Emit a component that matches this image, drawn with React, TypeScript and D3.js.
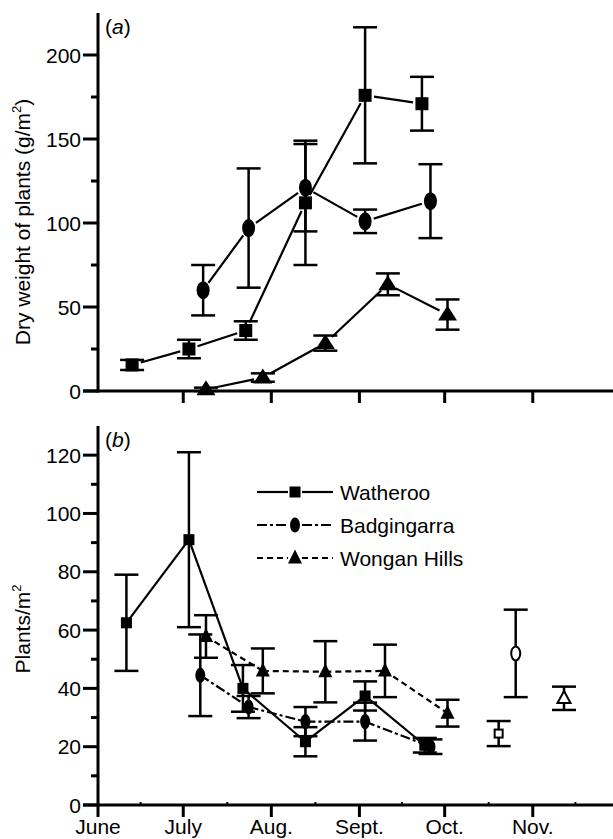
import React, { useRef, useEffect } from 'react';
import * as d3 from 'd3';

const YEAR = 1995;
const monthLabels = ["June", "July", "Aug.", "Sept.", "Oct.", "Nov."];
const monthStarts = ["06-01", "07-01", "08-01", "09-01", "10-01", "11-01"];

// (a) dry weight of plants, g/m2 (mean and error)
const dryWatheroo = [
  { date: "06-13", mean: 15.5, err: 3 },
  { date: "07-03", mean: 25, err: 5.5 },
  { date: "07-23", mean: 36, err: 5.5 },
  { date: "08-13", mean: 112, err: 37 },
  { date: "09-03", mean: 176, err: 40.5 },
  { date: "09-23", mean: 171, err: 16 },
];
const dryBadgingarra = [
  { date: "07-08", mean: 60, err: 15 },
  { date: "07-24", mean: 97, err: 35.5 },
  { date: "08-13", mean: 121, err: 26 },
  { date: "09-03", mean: 101, err: 7 },
  { date: "09-26", mean: 113, err: 22 },
];
const dryWongan = [
  { date: "07-09", mean: 1, err: 1 },
  { date: "07-29", mean: 8, err: 2.5 },
  { date: "08-20", mean: 28.5, err: 4.5 },
  { date: "09-11", mean: 63.5, err: 6.5 },
  { date: "10-02", mean: 45.5, err: 9 },
];

// (b) plant density, plants/m2
const densWatheroo = [
  { date: "06-11", mean: 62.5, err: 16.5 },
  { date: "07-03", mean: 91, err: 30 },
  { date: "07-22", mean: 40, err: 8 },
  { date: "08-13", mean: 21.7, err: 5 },
  { date: "09-03", mean: 37.4, err: 5 },
  { date: "09-24", mean: 20.5, err: 2.5 },
];
const densBadgingarra = [
  { date: "07-07", mean: 44.5, err: 14 },
  { date: "07-24", mean: 33.6, err: 3.8 },
  { date: "08-13", mean: 28.6, err: 5 },
  { date: "09-03", mean: 28.6, err: 6.5 },
  { date: "09-26", mean: 20, err: 2.5 },
];
const densWongan = [
  { date: "07-09", mean: 57.8, err: 7.3 },
  { date: "07-29", mean: 46, err: 7.7 },
  { date: "08-20", mean: 45.7, err: 10.5 },
  { date: "09-10", mean: 46, err: 9 },
  { date: "10-02", mean: 31.5, err: 4.6 },
];
// separate (unconnected) open-symbol samples
const densLateWatheroo = [{ date: "10-20", mean: 24.5, err: 4.3 }];
const densLateBadgingarra = [{ date: "10-26", mean: 52, err: 15 }];
const densLateWongan = [{ date: "11-12", mean: 36.6, err: 4 }];

const legendNames = ["Watheroo", "Badgingarra", "Wongan Hills"];

const FONT = "'Liberation Sans', Arial, Helvetica, sans-serif";

const App = () => {
  const svgRef = useRef(null);
  const width = 613;
  const height = 839;

  useEffect(() => {
    const svg = d3.select(svgRef.current);
    svg.selectAll("*").remove();

    const parse = d3.timeParse("%Y-%m-%d");
    const day = (s: string) => parse(`${YEAR}-${s}`) as Date;
    const x = d3.scaleTime().domain([day("06-01"), day("12-01")]).range([98, 618]);

    const dashes = { solid: null, dashdot: "10,3,3,3", dashed: "6,4" };

    // draw one marker
    const marker = (g, shape, cx, cy, s, open) => {
      const fill = open ? "#fff" : "#000";
      const sw = open ? 2 : 0;
      if (shape === "square") {
        g.append("rect").attr("x", cx - s.sq / 2).attr("y", cy - s.sq / 2)
          .attr("width", s.sq).attr("height", s.sq)
          .attr("fill", fill).attr("stroke", "#000").attr("stroke-width", sw);
      } else if (shape === "ellipse") {
        g.append("ellipse").attr("cx", cx).attr("cy", cy).attr("rx", s.rx).attr("ry", s.ry)
          .attr("fill", fill).attr("stroke", "#000").attr("stroke-width", sw);
      } else {
        const p = d3.path();
        p.moveTo(cx, cy - s.th * 0.6);
        p.lineTo(cx + s.tw / 2, cy + s.th * 0.4);
        p.lineTo(cx - s.tw / 2, cy + s.th * 0.4);
        p.closePath();
        g.append("path").attr("d", p.toString())
          .attr("fill", fill).attr("stroke", "#000").attr("stroke-width", sw)
          .attr("stroke-linejoin", "miter");
      }
    };

    const errorBars = (g, data, y, cap) => {
      data.forEach(d => {
        const cx = x(day(d.date));
        const y1 = y(d.mean + d.err);
        const y2 = y(d.mean - d.err);
        g.append("line").attr("x1", cx).attr("x2", cx).attr("y1", y1).attr("y2", y2);
        g.append("line").attr("x1", cx - cap / 2).attr("x2", cx + cap / 2).attr("y1", y1).attr("y2", y1);
        g.append("line").attr("x1", cx - cap / 2).attr("x2", cx + cap / 2).attr("y1", y2).attr("y2", y2);
      });
    };

    const connect = (g, data, y, dash, trim) => {
      const pts = data.map(d => [x(day(d.date)), y(d.mean)]);
      for (let i = 0; i < pts.length - 1; i++) {
        const [x1, y1] = pts[i];
        const [x2, y2] = pts[i + 1];
        const len = Math.hypot(x2 - x1, y2 - y1);
        const ux = (x2 - x1) / len, uy = (y2 - y1) / len;
        g.append("line")
          .attr("x1", x1 + ux * trim).attr("y1", y1 + uy * trim)
          .attr("x2", x2 - ux * trim).attr("y2", y2 - uy * trim)
          .attr("stroke-dasharray", dash);
      }
    };

    const panels = [
      {
        tag: "a",
        y: d3.scaleLinear().domain([0, 225]).range([391, 13]),
        major: [0, 50, 100, 150, 200],
        minor: [25, 75, 125, 175],
        title: ["Dry weight of plants (g/m", "2", ")"],
        titleY: 222,
        labels: false,
        trim: 9,
        size: { sq: 13, rx: 6.5, ry: 9, tw: 19, th: 15 },
        series: [
          { data: dryWatheroo, shape: "square", dash: dashes.solid },
          { data: dryBadgingarra, shape: "ellipse", dash: dashes.solid },
          { data: dryWongan, shape: "triangle", dash: dashes.solid },
        ],
        late: [],
      },
      {
        tag: "b",
        y: d3.scaleLinear().domain([0, 130]).range([805, 426]),
        major: [0, 20, 40, 60, 80, 100, 120],
        minor: [10, 30, 50, 70, 90, 110],
        title: ["Plants/m", "2", ""],
        titleY: 629,
        labels: true,
        trim: 0,
        size: { sq: 11, rx: 5, ry: 7.5, tw: 14, th: 14 },
        series: [
          { data: densWatheroo, shape: "square", dash: dashes.solid },
          { data: densBadgingarra, shape: "ellipse", dash: dashes.dashdot },
          { data: densWongan, shape: "triangle", dash: dashes.dashed },
        ],
        late: [
          { data: densLateWatheroo, shape: "square", size: { sq: 8 } },
          { data: densLateBadgingarra, shape: "ellipse", size: { rx: 4.5, ry: 7 } },
          { data: densLateWongan, shape: "triangle", size: { tw: 13, th: 12 } },
        ],
      },
    ];

    panels.forEach(p => {
      const y = p.y;
      const y0 = y(0);
      const g = svg.append("g");

      // axes
      const ax = g.append("g").attr("stroke", "#000").attr("stroke-width", 3).attr("fill", "none");
      ax.append("line").attr("x1", 98).attr("x2", 98).attr("y1", y.range()[1]).attr("y2", y0 + 1.5);
      ax.append("line").attr("x1", 83).attr("x2", 613).attr("y1", y0).attr("y2", y0);
      p.major.forEach(v => {
        ax.append("line").attr("x1", 83).attr("x2", 98).attr("y1", y(v)).attr("y2", y(v));
      });
      p.minor.forEach(v => {
        ax.append("line").attr("x1", 91).attr("x2", 98).attr("y1", y(v)).attr("y2", y(v));
      });
      monthStarts.forEach((m, i) => {
        if (i === 0 && !p.labels) return;
        const mx = x(day(m));
        ax.append("line").attr("x1", mx).attr("x2", mx).attr("y1", y0).attr("y2", y0 + 12);
        if (p.labels) {
          // small inward tick half way through each month
          const next = i < monthStarts.length - 1 ? x(day(monthStarts[i + 1])) : x.range()[1];
          const mid = (mx + next) / 2;
          ax.append("line").attr("x1", mid).attr("x2", mid).attr("y1", y0).attr("y2", y0 - 3)
            .attr("stroke-width", 2);
        }
      });

      const tl = g.append("g").attr("font-family", FONT).attr("font-size", 21).attr("fill", "#000");
      p.major.forEach(v => {
        tl.append("text").attr("x", 81).attr("y", y(v)).attr("dy", "0.36em")
          .attr("text-anchor", "end").text(v);
      });
      if (p.labels) {
        monthLabels.forEach((m, i) => {
          tl.append("text").attr("x", x(day(monthStarts[i]))).attr("y", y0 + 29)
            .attr("text-anchor", "middle").text(m);
        });
      }
      // axis title
      const t = tl.append("text")
        .attr("transform", `translate(30,${p.titleY}) rotate(-90)`)
        .attr("text-anchor", "middle");
      t.append("tspan").text(p.title[0]);
      t.append("tspan").attr("font-size", 13).attr("dy", -9).text(p.title[1]);
      if (p.title[2]) t.append("tspan").attr("dy", 9).text(p.title[2]);

      // panel tag
      const tag = tl.append("text").attr("x", 105).attr("y", y.range()[1] + 21);
      tag.append("tspan").text("(");
      tag.append("tspan").attr("font-style", "italic").text(p.tag);
      tag.append("tspan").text(")");

      // error bars
      const eg = g.append("g").attr("stroke", "#000").attr("stroke-width", 2.5);
      p.series.forEach(s => errorBars(eg, s.data, y, 24));
      p.late.forEach(s => errorBars(eg, s.data, y, 24));

      // lines
      const lg = g.append("g").attr("stroke", "#000").attr("stroke-width", 2.2).attr("fill", "none");
      p.series.forEach(s => connect(lg, s.data, y, s.dash, p.trim));

      // markers
      const mg = g.append("g");
      p.series.forEach(s => s.data.forEach(d => marker(mg, s.shape, x(day(d.date)), y(d.mean), p.size, false)));
      p.late.forEach(s => s.data.forEach(d => marker(mg, s.shape, x(day(d.date)), y(d.mean), s.size, true)));

      // legend in panel (b)
      if (p.labels) {
        const lgd = g.append("g");
        p.series.forEach((s, i) => {
          const ly = 492 + i * 33;
          lgd.append("line").attr("x1", 257).attr("x2", 288).attr("y1", ly).attr("y2", ly)
            .attr("stroke", "#000").attr("stroke-width", 2.2).attr("stroke-dasharray", s.dash);
          lgd.append("line").attr("x1", 302).attr("x2", 333).attr("y1", ly).attr("y2", ly)
            .attr("stroke", "#000").attr("stroke-width", 2.2).attr("stroke-dasharray", s.dash);
          marker(lgd, s.shape, 295, ly, p.size, false);
          lgd.append("text").attr("x", 340).attr("y", ly).attr("dy", "0.36em")
            .attr("font-family", FONT).attr("font-size", 21).text(legendNames[i]);
        });
      }
    });
  }, []);

  return (
    <svg ref={svgRef} width={width} height={height}
      style={{ position: "absolute", left: 0, top: 0, background: "#fff" }} />
  );
};

export default App;
